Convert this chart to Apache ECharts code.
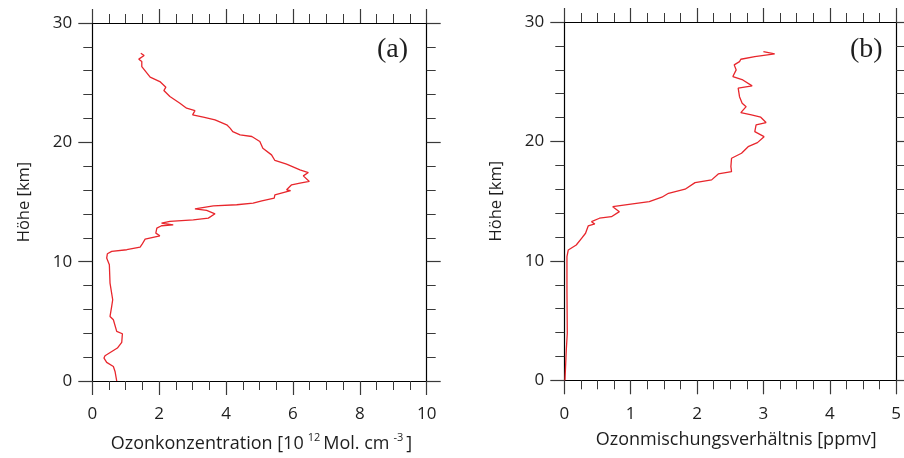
<!DOCTYPE html>
<html><head><meta charset="utf-8">
<script src="https://cdn.jsdelivr.net/npm/echarts@6/dist/echarts.min.js"></script>
<style>html,body{margin:0;padding:0;background:#fff}#c{width:904px;height:458px}</style>
</head><body><div id="c"></div>
<script>
// Panel (a): ozone concentration [1e12 molecules/cm^3] vs height [km]
const heightA = [27.47,27.27,26.97,26.77,26.35,25.46,25.09,24.62,24.34,23.84,23.28,22.86,22.66,22.30,22.11,21.88,21.47,21.19,20.90,20.63,20.49,20.07,19.51,18.95,18.48,18.17,17.70,17.47,17.19,16.72,16.58,16.44,16.02,15.96,15.60,15.33,15.10,14.91,14.77,14.68,14.43,14.29,14.01,13.65,13.51,13.37,13.23,13.09,13.01,12.81,12.39,12.17,11.89,11.42,11.22,11.00,10.86,10.66,10.30,9.74,8.21,6.81,6.25,5.41,5.13,4.16,3.96,3.23,2.76,2.12,1.92,1.56,1.22,0.80,0.0];
const concA = [1.45,1.55,1.39,1.48,1.48,1.73,2.02,2.20,2.14,2.32,2.62,2.82,3.07,3.00,3.32,3.67,4.02,4.12,4.20,4.42,4.77,5.01,5.10,5.36,5.46,5.81,6.21,6.46,6.31,6.49,6.21,5.96,5.81,5.93,5.46,5.44,5.07,4.81,4.32,3.62,3.07,3.42,3.67,3.47,3.02,2.32,2.07,2.42,2.07,1.93,1.90,2.02,1.58,1.48,1.43,1.03,0.58,0.45,0.43,0.51,0.53,0.61,0.58,0.53,0.63,0.73,0.90,0.88,0.75,0.38,0.35,0.43,0.63,0.68,0.73];
// Panel (b): ozone mixing ratio [ppmv] vs height [km]
const heightB = [27.52,27.33,27.10,26.88,26.68,26.41,25.99,25.43,25.15,24.65,24.46,23.75,23.20,22.91,22.41,22.22,22.03,21.58,21.38,20.82,20.40,19.90,19.56,19.01,18.59,18.45,17.89,17.47,17.28,16.78,16.55,16.00,15.66,15.33,14.96,14.77,14.54,14.12,13.70,13.57,13.28,13.09,12.92,12.31,11.89,11.33,10.91,10.35,7.56,3.94,2.54,0.0];
const mixB = [3.00,3.17,2.87,2.66,2.64,2.56,2.59,2.54,2.69,2.83,2.62,2.64,2.68,2.74,2.66,2.82,2.96,3.04,2.89,2.87,3.01,2.91,2.77,2.67,2.52,2.49,2.51,2.52,2.32,2.22,1.97,1.82,1.57,1.47,1.28,1.03,0.73,0.83,0.71,0.53,0.41,0.46,0.36,0.32,0.26,0.18,0.06,0.04,0.04,0.045,0.03,0.01];
const xTicksA = [0,2,4,6,8,10];
const xTicksB = [0,1,2,3,4,5];
const yTicks = [0,10,20,30];

const FONT = '"Open Sans", "Noto Sans", sans-serif';
const lineCol = '#000';
const tickCol = '#3a3a3a';
const txtCol = '#1e1e1e';

function xAx(grid, max, interval, pos, show, name, shift) {
  return {
    type:'value', gridIndex:grid, min:0, max:max, interval:interval, position:pos,
    axisLine:{show:true, onZero:false, lineStyle:{color:lineCol, width:1.2}},
    axisTick:{show:true, inside:false, length:14, lineStyle:{color:tickCol, width:1.2}},
    minorTick:{show:true, splitNumber:4, length:9, lineStyle:{color:tickCol, width:1}},
    splitLine:{show:false}, minorSplitLine:{show:false},
    axisLabel:{show:show, margin:25, color:txtCol, fontFamily:FONT, fontSize:17},
    name: show ? name : '', nameLocation:'middle', nameGap:51,
    nameTextStyle:{color:txtCol, fontFamily:FONT, fontSize:18, padding:[0,0,0,shift||0],
      rich:{a:{fontFamily:FONT, fontSize:18, color:txtCol}, s:{fontFamily:FONT, fontSize:11, color:txtCol, padding:[0,3,13,4]}}}
  };
}
function yAx(grid, pos, show) {
  return {
    type:'value', gridIndex:grid, min:0, max:30, interval:10, position:pos,
    axisLine:{show:true, onZero:false, lineStyle:{color:lineCol, width:1.2}},
    axisTick:{show:true, inside:false, length:14, lineStyle:{color:tickCol, width:1.2}},
    minorTick:{show:true, splitNumber:5, length:9, lineStyle:{color:tickCol, width:1}},
    splitLine:{show:false}, minorSplitLine:{show:false},
    axisLabel:{show:show, margin:20, color:txtCol, fontFamily:FONT, fontSize:17},
    name: show ? 'Höhe [km]' : '', nameLocation:'middle', nameGap:60, nameRotate:90,
    nameTextStyle:{color:txtCol, fontFamily:FONT, fontSize:16.5}
  };
}

const chart = echarts.init(document.getElementById('c'), null, {renderer:'canvas'});
chart.setOption({
  animation:false,
  backgroundColor:'#fff',
  grid:[
    {left:92.3, top:23, width:334.4, height:358.3},
    {left:564.3, top:22, width:335.7, height:358.3}
  ],
  xAxis:[
    xAx(0,10,2,'bottom',true,'{a|Ozonkonzentration [10}{s|12}{a|Mol. cm}{s|-3}{a|]}', 4),
    xAx(0,10,2,'top',false,''),
    xAx(1,5,1,'bottom',true,'Ozonmischungsverhältnis [ppmv]', 12),
    xAx(1,5,1,'top',false,'')
  ],
  yAxis:[
    yAx(0,'left',true), yAx(0,'right',false),
    yAx(1,'left',true), yAx(1,'right',false)
  ],
  title:[
    {text:'(a)', left:372, top:31, textStyle:{fontFamily:'"Liberation Serif", serif', fontSize:28, fontWeight:'normal', color:txtCol}},
    {text:'(b)', left:845, top:31, textStyle:{fontFamily:'"Liberation Serif", serif', fontSize:28, fontWeight:'normal', color:txtCol}}
  ],
  series:[
    {type:'line', xAxisIndex:0, yAxisIndex:0, showSymbol:false, symbol:'none',
     lineStyle:{color:'#e8262c', width:1.3}, data: concA.map((v,i)=>[v, heightA[i]])},
    {type:'line', xAxisIndex:2, yAxisIndex:2, showSymbol:false, symbol:'none',
     lineStyle:{color:'#e8262c', width:1.3}, data: mixB.map((v,i)=>[v, heightB[i]])}
  ]
});
</script></body></html>
